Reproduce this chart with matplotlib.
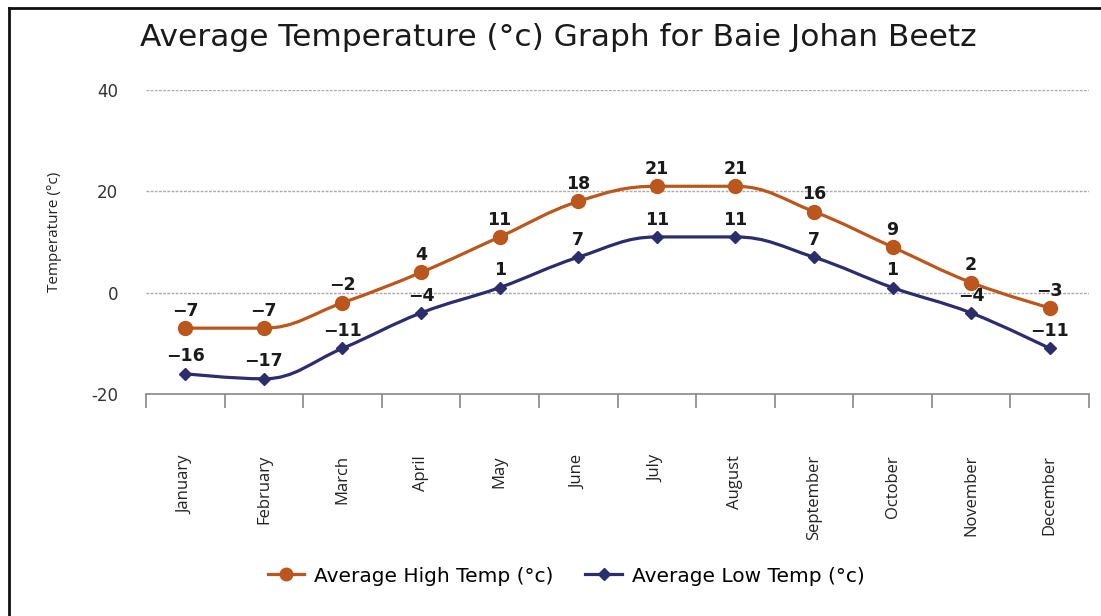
import numpy as np
import matplotlib
matplotlib.use("Agg")
import matplotlib.pyplot as plt
from matplotlib.path import Path
from matplotlib.patches import PathPatch
from matplotlib.lines import Line2D

# ----------------- DATOS -----------------
months = ["January", "February", "March", "April", "May", "June",
          "July", "August", "September", "October", "November", "December"]
high_temp = [-7, -7, -2, 4, 11, 18, 21, 21, 16, 9, 2, -3]
low_temp = [-16, -17, -11, -4, 1, 7, 11, 11, 7, 1, -4, -11]

HIGH_COLOR = "#bb561c"
LOW_COLOR = "#2b2d6c"

plt.rcParams["axes.unicode_minus"] = False


def spline_path(xs, ys, smoothing=1.5):
    """Curva suave estilo Highcharts (bezier cúbica)."""
    n = len(xs)
    denom = smoothing + 1
    left = [None] * n
    right = [None] * n
    for i in range(1, n - 1):
        x, y = xs[i], ys[i]
        lx, ly = xs[i - 1], ys[i - 1]
        nx, ny = xs[i + 1], ys[i + 1]
        lcx = (smoothing * x + lx) / denom
        lcy = (smoothing * y + ly) / denom
        rcx = (smoothing * x + nx) / denom
        rcy = (smoothing * y + ny) / denom
        if rcx != lcx:
            corr = ((rcy - lcy) * (rcx - x)) / (rcx - lcx) + y - rcy
            lcy += corr
            rcy += corr
        if lcy > ly and lcy > y:
            lcy = max(ly, y)
            rcy = 2 * y - lcy
        elif lcy < ly and lcy < y:
            lcy = min(ly, y)
            rcy = 2 * y - lcy
        if rcy > ny and rcy > y:
            rcy = max(ny, y)
            lcy = 2 * y - rcy
        elif rcy < ny and rcy < y:
            rcy = min(ny, y)
            lcy = 2 * y - rcy
        left[i] = (lcx, lcy)
        right[i] = (rcx, rcy)
    verts = [(xs[0], ys[0])]
    codes = [Path.MOVETO]
    for i in range(1, n):
        c1 = right[i - 1] if right[i - 1] is not None else (xs[i - 1], ys[i - 1])
        c2 = left[i] if left[i] is not None else (xs[i], ys[i])
        verts += [c1, c2, (xs[i], ys[i])]
        codes += [Path.CURVE4] * 3
    return Path(verts, codes)


fig = plt.figure(figsize=(11.01, 6.16), dpi=100)
ax = fig.add_axes([146 / 1101, 1 - 394 / 616, (1089 - 146) / 1101, (394 - 90) / 616])

x = np.arange(len(months))

for vals, color, marker, ms in [(high_temp, HIGH_COLOR, "o", 10),
                                (low_temp, LOW_COLOR, "D", 6.5)]:
    patch = PathPatch(spline_path(x, vals), facecolor="none", edgecolor=color,
                      lw=2.3, zorder=3)
    ax.add_patch(patch)
    ax.plot(x, vals, linestyle="none", marker=marker, ms=ms, color=color, zorder=4)
    for xi, v in zip(x, vals):
        ax.annotate(str(v).replace("-", "\u2212"), (xi, v), xytext=(0, 6),
                    textcoords="offset points", ha="center", va="bottom",
                    fontsize=12.5, fontweight="bold", color="#1a1a1a", zorder=5)

ax.set_xlim(-0.5, 11.5)
ax.set_ylim(-20, 40)

# ejes
for s in ["top", "right", "left"]:
    ax.spines[s].set_visible(False)
ax.spines["bottom"].set_color("#888888")
ax.spines["bottom"].set_linewidth(1.2)

ax.set_yticks([-20, 0, 20, 40])
ax.tick_params(axis="y", length=0, pad=20, labelsize=12, labelcolor="#333333")
for yv in [0, 20, 40]:
    ax.axhline(yv, color="#aaaaaa", lw=1, ls=(0, (2, 1)), zorder=1)

ax.set_xticks(x)
ax.set_xticklabels(months, rotation=90, fontsize=12, family="Open Sans",
                   color="#222222")
ax.tick_params(axis="x", length=0, pad=44)
ax.set_xticks(np.arange(-0.5, 12, 1), minor=True)
ax.tick_params(axis="x", which="minor", length=10, width=1.2, color="#888888")

fig.text(55 / 1101, 1 - 232 / 616, "Temperature (°c)", rotation=90,
         ha="center", va="center", fontsize=11, family="Open Sans", color="#222222")

fig.text(558 / 1101, 1 - 38 / 616, "Average Temperature (°c) Graph for Baie Johan Beetz",
         ha="center", va="center", fontsize=22.5, color="#1a1a1a")

handles = [Line2D([], [], color=HIGH_COLOR, lw=2.3, marker="o", ms=9),
           Line2D([], [], color=LOW_COLOR, lw=2.3, marker="D", ms=6)]
fig.legend(handles, ["Average High Temp (°c)", "Average Low Temp (°c)"],
           loc="center", bbox_to_anchor=(566 / 1101, 40 / 616), ncol=2,
           frameon=False, fontsize=14.5, handlelength=1.8, columnspacing=1.6,
           handletextpad=0.5)

# marco
fig.add_artist(Line2D([9 / 1101, 9 / 1101], [0, 1 - 8 / 616],
                      transform=fig.transFigure, color="#111111", lw=2))
fig.add_artist(Line2D([9 / 1101, 1], [1 - 8 / 616, 1 - 8 / 616],
                      transform=fig.transFigure, color="#111111", lw=2))

fig.savefig("out.png", dpi=100)
